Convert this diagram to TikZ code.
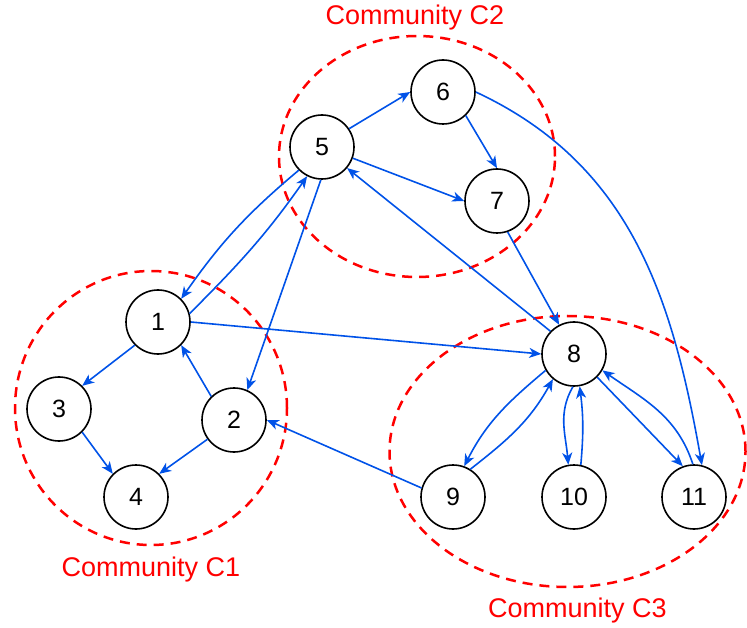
\documentclass[tikz,border=0pt]{standalone}
\usepackage{fontspec}
\setmainfont{Liberation Sans}
\usepackage{tikz}
\usetikzlibrary{arrows.meta,shapes.geometric}
\definecolor{linkblue}{RGB}{0,82,232}

\begin{document}
\begin{tikzpicture}[x=1pt, y=-1pt,
	vertex/.style={circle, draw, fill=white, line width=1.6pt, minimum size=64pt, inner sep=0pt, font=\fontsize{25}{30}\selectfont},
	link/.style={linkblue, line width=1.6pt, -{Stealth[length=12pt,width=10pt,inset=3.5pt]}},
	group/.style={draw=red, line width=2.5pt, dash pattern=on 10pt off 7pt},
	grouplabel/.style={text=red, anchor=base, inner sep=0pt, font=\fontsize{27}{32}\selectfont}]
				\useasboundingbox (0,0) rectangle (747,628);
				
				% Communities
				\draw [group] (151,408) ellipse [x radius=136pt, y radius=137pt];
				\draw [group] (417,156.5) ellipse [x radius=138pt, y radius=120.5pt];
				\draw [group] (567.5,451.5) ellipse [x radius=178pt, y radius=135.5pt];
				\node [grouplabel] (labelC1) at (151,576) {Community C1};
				\node [grouplabel] (labelC2) at (415,25) {Community C2};
				\node [grouplabel] (labelC3) at (577.5,617) {Community C3};
				
				\node [vertex] (n1) at (158,322) {1};
				\node [vertex] (n2) at (234,420) {2};
				\node [vertex] (n3) at (59,409) {3};
				\node [vertex] (n4) at (136,497) {4};
				
				\node [vertex] (n5) at (322,147) {5};
				\node [vertex] (n6) at (443,92) {6};
				\node [vertex] (n7) at (497,201) {7};
				
				\node [vertex] (n8) at (574,354) {8};
				\node [vertex] (n9) at (453,497) {9};
				\node [vertex] (n10) at (574,497) {10};
				\node [vertex] (n11) at (694,497) {11};
				
				% Links
				\path [link] (n1.225) edge (n3.45);
				\path [link] (n3.-45) edge (n4.135);
				\path [link] (n2.216) edge (n4.45);
				\path [link] (n2.134) edge (n1.-45);
				\path [link] (n1.east) edge (n8.west);
				\path [link] (n5.225) edge [out=220, in=55] (n1.45);
				\path [link] (n1.15) edge [out=45, in=235] (n5.243);
				\path [link] (n5.268) edge (n2.66);
				\path [link] (n5.34) edge (n6.west);
				\path [link] (n5.-20) edge (n7.west);
				\path [link] (n6.-46) edge (n7.north);
				\path [link] (n7.-71) edge (n8.117);
				\path [link] (n8.136) edge (n5.-40);
				\path [link] (n9.164) edge (n2.east);
				\path [link] (n8.-45) edge (n11.110);
				\path [link] (n8.210) edge [out=220, in=63] (n9.70);
				\path [link] (n9.58) edge [out=38, in=241] (n8.230);
				\path [link] (n8.268) edge [out=240, in=95] (n10.100);
				\path [link] (n10.78) edge [out=85, in=277] (n8.280);
				\path [link] (n11.92) edge [out=108, in=325] (n8.330);
				\path [link] (n6.0) edge [out=-25, in=100] (n11.76);
			\end{tikzpicture}
\end{document}
